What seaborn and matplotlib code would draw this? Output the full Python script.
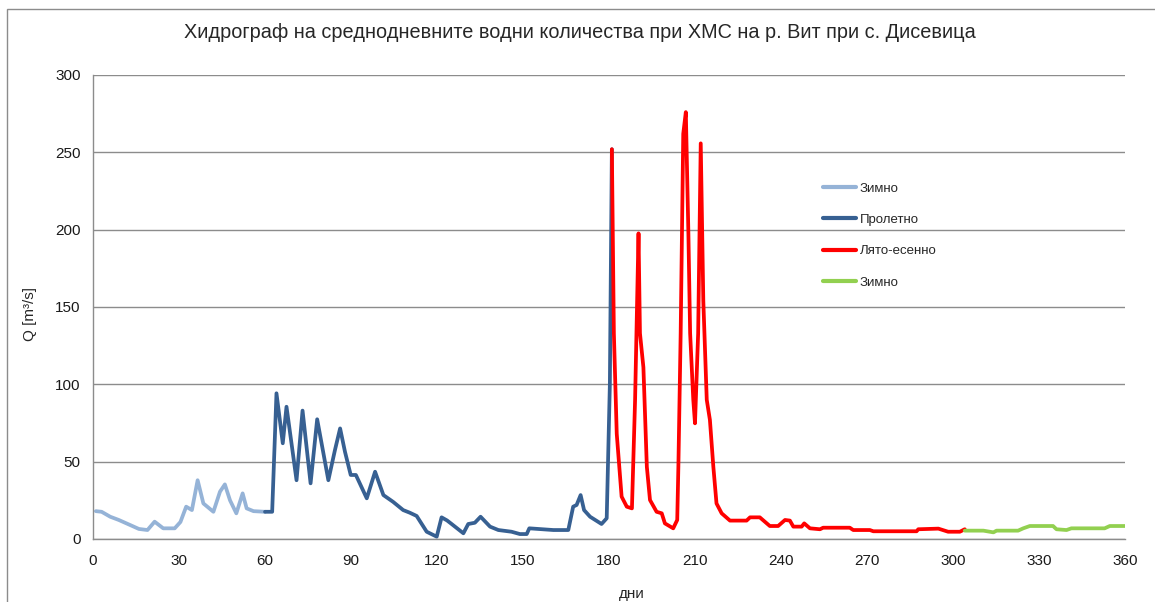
import pandas as pd
import matplotlib
matplotlib.use("Agg")
import matplotlib.pyplot as plt
import matplotlib.patches as patches
import seaborn as sns

# Season series (day of year, daily mean discharge m3/s)
winter1_days = [1, 3, 6, 9, 13, 16, 19, 21.5, 24.5, 28.5, 30.5, 32.5, 34.5, 36.5,
                38.5, 42, 44.3, 46, 47.8, 50, 52.2, 53.6, 56, 60]
winter1_q = [18, 17.6, 14.4, 12.3, 9, 6.5, 5.8, 11.2, 6.9, 6.9, 11, 20.9, 18.7, 38,
             23, 17.6, 30.6, 35.3, 25, 16.6, 29.5, 19.8, 18, 17.6]

spring_days = [60, 62.5, 64, 66.2, 67.5, 71, 73.1, 75.9, 78.2, 82.1, 84.4, 86.2,
               87.9, 89.9, 91.7, 95.5, 98.4, 101.3, 104.7, 108.2, 110.5, 112.9,
               116.4, 119.9, 121.6, 123.5, 125.1, 129.2, 130.9, 133.2, 135.2, 138.5,
               141.4, 146, 148.9, 151.3, 152.2, 160.6, 165.8, 167.5, 168.7, 170.1,
               171.3, 173.4, 177.4, 179.2, 180.3, 181]
spring_q = [17.6, 17.6, 94.2, 61.9, 85.5, 38, 83, 36, 77.4, 38, 57.5, 71.5,
            56.4, 41.4, 41.4, 26.3, 43.5, 28.4, 24, 18.7, 17, 14.9,
            4.7, 1.5, 14, 12, 9.7, 3.7, 9.7, 10.5, 14.4, 8,
            5.8, 4.7, 3.2, 3.2, 6.9, 5.8, 5.8, 20.9, 22, 28.4,
            18.7, 14.4, 9.7, 13.4, 100, 252]

summer_days = [181, 181.7, 182.7, 184.4, 186.2, 188, 189.1, 190.3, 190.8, 192,
               193.2, 194.3, 196.6, 198.4, 199.5, 202.4, 203.8, 204.2, 205, 205.9,
               206.8, 207.7, 208.3, 209.4, 210, 211.1, 212, 212.9, 214.1, 215.2,
               216.4, 217.5, 219.3, 222.2, 228, 229.2, 232.6, 236.1, 239, 241.4,
               243.1, 244.3, 247.2, 248.1, 250.1, 253.6, 254.7, 264, 265.2, 271,
               272.2, 287.3, 287.9, 294.9, 298.3, 302.4, 304.1]
summer_q = [252, 133, 68, 27.4, 20.9, 19.8, 90, 197.6, 133, 111,
            46.7, 25.2, 17.6, 16.6, 10.1, 6.9, 12.3, 46.7, 133, 262,
            276, 197, 133, 90, 74.8, 133, 255.8, 154, 90, 77,
            46.7, 23, 16.6, 11.9, 11.9, 14, 14, 8.4, 8.4, 12.3,
            11.9, 8, 8, 10.1, 6.9, 6.3, 7.3, 7.3, 5.8, 5.8,
            5, 5, 6.3, 6.7, 4.7, 4.7, 6.3]

winter2_days = [304.1, 310.6, 314.1, 315.2, 322.7, 324.5, 326.8, 334.9, 336.1,
                339.6, 341.3, 352.9, 354.7, 360]
winter2_q = [5.4, 5.4, 4.3, 5.4, 5.4, 6.9, 8.4, 8.4, 6.3,
             5.8, 6.9, 6.9, 8.4, 8.4]

labels = ["Зимно", "Пролетно", "Лято-есенно", "Зимно"]
colors = ["#95B3D7", "#376092", "#FF0000", "#92D050"]

title = "Хидрограф на среднодневните водни количества при ХМС на р. Вит при с. Дисевица"

sns.set_style("white")
plt.rcParams['font.family'] = ['Liberation Sans', 'DejaVu Sans']

fig = plt.figure(figsize=(11.55, 6.02), dpi=100)
ax = fig.add_axes([93 / 1155, 1 - 539 / 602, (1125 - 93) / 1155, (539 - 75) / 602])

series = [(winter1_days, winter1_q), (spring_days, spring_q),
          (summer_days, summer_q), (winter2_days, winter2_q)]
for (d, q), lab, col in zip(series, labels, colors):
    df = pd.DataFrame({"day": d, "Q": q})
    sns.lineplot(data=df, x="day", y="Q", ax=ax, color=col, linewidth=2.7,
                 label=lab, sort=False, solid_joinstyle="round", solid_capstyle="round")

ax.set_xlim(0, 360)
ax.set_ylim(0, 300)
ax.set_xticks(range(0, 361, 30))
ax.set_yticks(range(0, 301, 50))
ax.yaxis.grid(True, color="#8c8c8c", linewidth=1)
ax.xaxis.grid(False)
ax.set_axisbelow(True)
for s in ["top", "right"]:
    ax.spines[s].set_visible(False)
for s in ["left", "bottom"]:
    ax.spines[s].set_color("#8c8c8c")
    ax.spines[s].set_linewidth(1)
ax.tick_params(axis="both", direction="out", length=5, width=1, color="#8c8c8c",
               labelsize=11, labelcolor="#1a1a1a", pad=6)
ax.tick_params(axis="y", pad=4)
ax.set_xlabel("")
ax.set_ylabel("")

leg = ax.legend(loc="upper left", bbox_to_anchor=(818 / 1155, 1 - 177 / 602),
                bbox_transform=fig.transFigure, frameon=False, fontsize=9.5,
                labelspacing=1.45, handlelength=2.5, handletextpad=0.25,
                borderaxespad=0)
for line in leg.get_lines():
    line.set_linewidth(3)

fig.text(580 / 1155, 1 - 33 / 602, title, ha="center", va="center", fontsize=14.3)
fig.text(632 / 1155, 1 - 594 / 602, "дни", ha="center", va="center", fontsize=11)
fig.text(30 / 1155, 1 - 314 / 602, "Q [m³/s]", ha="center", va="center",
         rotation=90, fontsize=11)

# outer chart frame
fig.patches.append(patches.Rectangle((7 / 1155, -0.02), 1.1, 1 - 9 / 602 + 0.02,
                                     transform=fig.transFigure, fill=False,
                                     edgecolor="#8c8c8c", linewidth=1))

fig.savefig("out.png", dpi=100)
